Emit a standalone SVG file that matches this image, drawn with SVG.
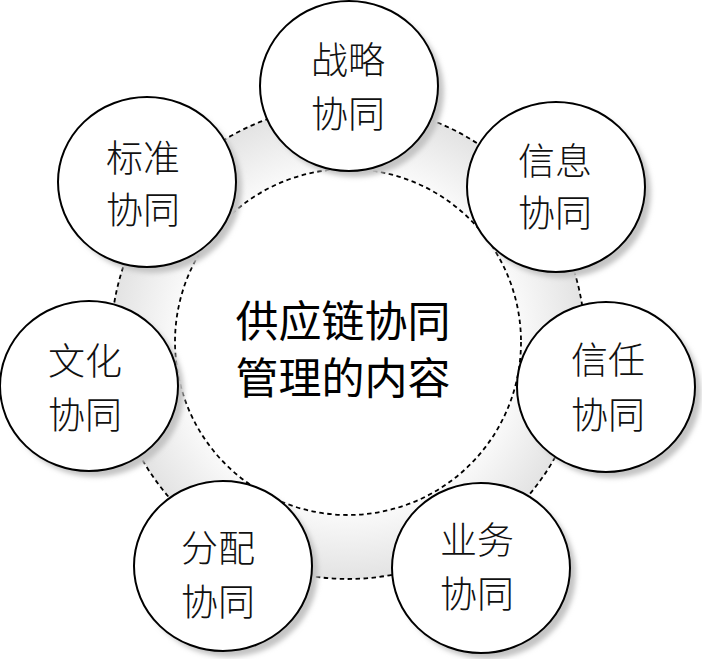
<svg xmlns="http://www.w3.org/2000/svg" width="702" height="659" viewBox="0 0 702 659">
<style>
.dash{fill:none;stroke:#000;stroke-width:1.8;stroke-dasharray:4.5 3.5}
.node{fill:#fff;stroke:#000;stroke-width:2}
.shadow{fill:#c4c4c4;filter:url(#blur)}
.lbl{font-family:"Noto Sans CJK SC","Noto Sans",sans-serif;font-size:37px;fill:#111;text-anchor:middle;dominant-baseline:central;font-weight:300}
.hub{font-family:"Noto Sans CJK SC","Noto Sans",sans-serif;font-size:43px;fill:#000;text-anchor:middle;dominant-baseline:central}
</style>
<defs>
<radialGradient id="ringGrad" cx="348" cy="342" r="237" gradientUnits="userSpaceOnUse">
<stop offset="0.72" stop-color="#fafafa"/>
<stop offset="1" stop-color="#e3e3e3"/>
</radialGradient>
<filter id="blur" x="-20%" y="-20%" width="140%" height="140%"><feGaussianBlur stdDeviation="2.5"/></filter>
</defs>
<rect width="702" height="659" fill="#fff"/>
<g id="ring">
<circle cx="348" cy="342" r="237" fill="url(#ringGrad)"/>
<circle class="dash" cx="348" cy="342" r="237"/>
<circle cx="348" cy="342" r="173" fill="#fff"/>
<circle class="dash" cx="348" cy="342" r="173"/>
</g>
<g id="connectors"/>
<g id="hub">
<text class="hub" x="343" y="318">供应链协同</text>
<text class="hub" x="343" y="375">管理的内容</text>
</g>
<g id="n-zhanlue">
<ellipse class="shadow" cx="355" cy="92" rx="89" ry="85"/>
<ellipse class="node" cx="349" cy="86" rx="89" ry="85"/>
<text class="lbl" x="348" y="58">战略</text>
<text class="lbl" x="348" y="112">协同</text>
</g>
<g id="n-biaozhun">
<ellipse class="shadow" cx="153" cy="188" rx="89" ry="85"/>
<ellipse class="node" cx="147" cy="182" rx="89" ry="85"/>
<text class="lbl" x="143" y="156">标准</text>
<text class="lbl" x="143" y="208">协同</text>
</g>
<g id="n-xinxi">
<ellipse class="shadow" cx="562" cy="193" rx="89" ry="85"/>
<ellipse class="node" cx="556" cy="187" rx="89" ry="85"/>
<text class="lbl" x="555" y="159">信息</text>
<text class="lbl" x="555" y="211">协同</text>
</g>
<g id="n-wenhua">
<ellipse class="shadow" cx="95" cy="392" rx="89" ry="85"/>
<ellipse class="node" cx="89" cy="386" rx="89" ry="85"/>
<text class="lbl" x="85" y="359">文化</text>
<text class="lbl" x="85" y="413">协同</text>
</g>
<g id="n-xinren">
<ellipse class="shadow" cx="612" cy="393" rx="89" ry="85"/>
<ellipse class="node" cx="606" cy="387" rx="89" ry="85"/>
<text class="lbl" x="608" y="358">信任</text>
<text class="lbl" x="608" y="413">协同</text>
</g>
<g id="n-fenpei">
<ellipse class="shadow" cx="229" cy="572" rx="89" ry="85"/>
<ellipse class="node" cx="223" cy="566" rx="89" ry="85"/>
<text class="lbl" x="218" y="546">分配</text>
<text class="lbl" x="218" y="600">协同</text>
</g>
<g id="n-yewu">
<ellipse class="shadow" cx="487" cy="574" rx="89" ry="85"/>
<ellipse class="node" cx="481" cy="568" rx="89" ry="85"/>
<text class="lbl" x="477" y="538">业务</text>
<text class="lbl" x="477" y="592">协同</text>
</g>
</svg>
